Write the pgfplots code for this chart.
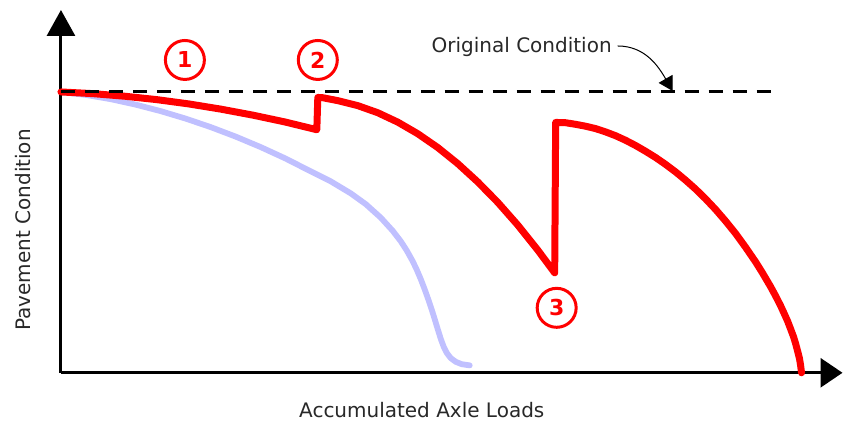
\documentclass[border=0pt]{standalone}
\usepackage{fontspec}
\setmainfont{DejaVu Sans}
\usepackage{pgfplots}
\pgfplotsset{compat=1.18}
\usetikzlibrary{arrows.meta}

\definecolor{lifeblue}{RGB}{192,192,255}
\definecolor{txtgray}{RGB}{40,40,40}

\tikzset{numcirc/.style={circle, draw=red, line width=1.5pt, minimum size=19.5pt,
    inner sep=0pt, text=red, font=\bfseries\fontsize{11pt}{12pt}\selectfont}}

\begin{document}
\begin{tikzpicture}
\begin{axis}[
    scale only axis,
    width=391pt, height=181.5pt,
    xmin=0, xmax=782, ymin=0, ymax=363,
    axis lines=left,
    axis line style={line width=1.5pt, black},
    x axis line style={-{Triangle[length=11pt,width=14.5pt]}},
    y axis line style={-{Triangle[length=13pt,width=14pt]}},
    xtick=\empty, ytick=\empty,
    clip=false,
]
% bounding box of the whole picture
\path (axis cs:-61,-56) rectangle (axis cs:783,373);

% deterioration without maintenance
\addplot[lifeblue, line width=2.9pt, sharp plot, line cap=round, line join=round] coordinates {
    (0,281) (25,278) (50,273.75) (75,268.25) (100,261.75) (125,254.25)
    (150,245.75) (175,236.25) (200,225.75) (225,214.25) (250,201.5)
    (270,191.5) (290,179.5) (305,168.7) (320,155.2) (332,142) (340,131.6)
    (346,122.3) (352,111.5) (356,103.1) (360,93.7) (364,83.3) (368,72.1)
    (371,63.1) (374,53.5) (377,43.6) (380,34) (383,25.9) (386,19.9)
    (390,14.7) (395,11) (401,8.6) (409,7.4)
};

% deterioration with treatments
\addplot[red, line width=3.5pt, sharp plot, line cap=round, line join=round] coordinates {
    (0,281) (32,279.3) (64,276.7) (96,273.3) (128,269.0) (160,263.8)
    (192,257.8) (224,251.0) (256,243.2)
    (257,275.5) (262,275.2)
    (277,272.3) (297,267.3) (317,260.2) (337,250.8) (357,239.2) (377,225.4)
    (397,209.3) (417,191.0) (437,170.6) (457,147.9) (477,122.9) (494,100)
    (495,250.5)
    (505,250.2) (515,248.6) (525,246.7) (535,244.3) (545,241) (555,237.2)
    (565,232.6) (575,227.4) (585,221.6) (595,215.4) (605,208.5) (615,201)
    (625,192.7) (635,183.8) (645,174) (655,163.4) (665,151.8) (675,139.4)
    (685,125.6) (695,111) (702,99.8) (710,86.2) (715,77) (720,67.2)
    (724,58.5) (727,51.8) (730,44) (733,36) (735,29.5) (737,22)
    (739,14) (740,8) (741,0)
};

% original condition
\addplot[black, line width=1.5pt, dash pattern=on 7pt off 5pt] coordinates {
    (0,281) (714,281)
};

% annotations
\node[txtgray, font=\fontsize{10pt}{12pt}\selectfont] at (axis cs:461,326) {Original Condition};
\draw[black, line width=0.5pt, -{Triangle[length=7pt,width=8pt]}]
    (axis cs:557,327) to[out=0, in=120] (axis cs:612,282);

\node[numcirc] at (axis cs:124,313) {1};
\node[numcirc] at (axis cs:257,313) {2};
\node[numcirc] at (axis cs:496,65) {3};

\node[txtgray, font=\fontsize{10pt}{12pt}\selectfont] at (axis cs:361,-37) {Accumulated Axle Loads};
\node[txtgray, rotate=90, font=\fontsize{10pt}{12pt}\selectfont] at (axis cs:-38,143) {Pavement Condition};
\end{axis}
\end{tikzpicture}
\end{document}
